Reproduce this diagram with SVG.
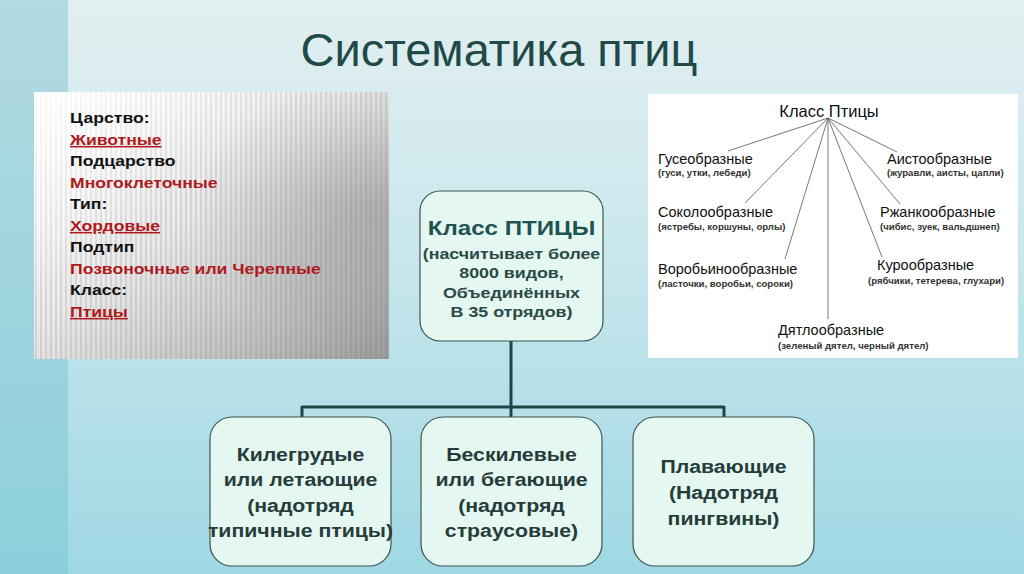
<svg xmlns="http://www.w3.org/2000/svg" width="1024" height="574" viewBox="0 0 1024 574">
<defs>
<linearGradient id="bg" x1="0" y1="0" x2="0" y2="1">
<stop offset="0" stop-color="#e2eff0"/>
<stop offset="0.35" stop-color="#cfe9ee"/>
<stop offset="1" stop-color="#9fd8e4"/>
</linearGradient>
<linearGradient id="strip" x1="0" y1="0" x2="0" y2="1">
<stop offset="0" stop-color="#b2dae0"/>
<stop offset="1" stop-color="#8ccfdc"/>
</linearGradient>
<linearGradient id="gray" x1="0" y1="0" x2="1" y2="1">
<stop offset="0" stop-color="#ffffff"/>
<stop offset="0.45" stop-color="#e4e4e4"/>
<stop offset="0.8" stop-color="#b8b8b8"/>
<stop offset="1" stop-color="#9a9a9a"/>
</linearGradient>
<radialGradient id="shade" cx="0.95" cy="0.45" r="0.5">
<stop offset="0" stop-color="#888" stop-opacity="0.5"/>
<stop offset="1" stop-color="#888" stop-opacity="0"/>
</radialGradient>
<pattern id="stripes" width="5" height="10" patternUnits="userSpaceOnUse">
<rect x="0" y="0" width="2" height="10" fill="#7a7a7a" fill-opacity="0.25"/>
</pattern>
<linearGradient id="fade" x1="0" y1="0" x2="1" y2="1">
<stop offset="0" stop-color="#fff" stop-opacity="0.9"/>
<stop offset="0.4" stop-color="#fff" stop-opacity="0.2"/>
<stop offset="1" stop-color="#fff" stop-opacity="0"/>
</linearGradient>
<style>
.box{fill:#e4f7f0;stroke:#3c5552;stroke-width:1.2}
.bt{font-family:"Liberation Sans",Arial,sans-serif;font-weight:bold;font-size:19px;fill:#263c3a;text-anchor:middle}
.mt{font-family:"Liberation Sans",Arial,sans-serif;font-weight:bold;font-size:15.5px;fill:#2a4a48;text-anchor:middle}
.lt{font-family:"Liberation Sans",Arial,sans-serif;font-weight:bold;font-size:15.3px;fill:#111}
.red{fill:#b0191c}
.u{text-decoration:underline}
.on{font-family:"Liberation Sans",Arial,sans-serif;font-size:14.5px;fill:#111}
.os{font-family:"Liberation Sans",Arial,sans-serif;font-size:9.6px;font-weight:bold;fill:#333}
.ray{stroke:#555;stroke-width:0.8;fill:none}
.conn{stroke:#1c4646;stroke-width:3;fill:none}
</style>
</defs>
<rect width="1024" height="574" fill="url(#bg)"/>
<rect x="0" y="0" width="68" height="574" fill="url(#strip)"/>
<text x="499" y="66" font-family="Liberation Sans,Arial,sans-serif" font-size="46" fill="#1f4a47" text-anchor="middle" textLength="397" lengthAdjust="spacingAndGlyphs">Систематика птиц</text>

<g id="taxonomy-panel">
<rect x="34" y="92" width="355" height="267" fill="url(#gray)"/>
<rect x="34" y="92" width="355" height="267" fill="url(#shade)"/>
<rect x="34" y="92" width="355" height="267" fill="url(#stripes)"/>
<rect x="34" y="92" width="355" height="267" fill="url(#fade)"/>
<g transform="translate(70,0) scale(1.15,1)">
<text class="lt" x="0" y="123">Царство:</text>
<text class="lt red u" x="0" y="145">Животные</text>
<text class="lt" x="0" y="166">Подцарство</text>
<text class="lt red" x="0" y="188">Многоклеточные</text>
<text class="lt" x="0" y="209">Тип:</text>
<text class="lt red u" x="0" y="231">Хордовые</text>
<text class="lt" x="0" y="252">Подтип</text>
<text class="lt red" x="0" y="274">Позвоночные или Черепные</text>
<text class="lt" x="0" y="295">Класс:</text>
<text class="lt red u" x="0" y="317">Птицы</text>
</g>
</g>

<g id="orders-panel">
<rect x="648" y="94" width="370" height="264" fill="#ffffff"/>
<text x="829" y="117" font-family="Liberation Sans,Arial,sans-serif" font-size="16.5" fill="#111" text-anchor="middle">Класс Птицы</text>
<g>
<line class="ray" x1="828" y1="118" x2="728" y2="151"/>
<line class="ray" x1="828" y1="118" x2="745" y2="203"/>
<line class="ray" x1="828" y1="118" x2="785" y2="259"/>
<line class="ray" x1="828" y1="118" x2="828" y2="319"/>
<line class="ray" x1="828" y1="118" x2="882" y2="257"/>
<line class="ray" x1="828" y1="118" x2="900" y2="204"/>
<line class="ray" x1="828" y1="118" x2="897" y2="152"/>
</g>
<text class="on" x="658" y="163.5">Гусеобразные</text>
<text class="os" x="658" y="175.5">(гуси, утки, лебеди)</text>
<text class="on" x="658" y="216.5">Соколообразные</text>
<text class="os" x="658" y="230">(ястребы, коршуны, орлы)</text>
<text class="on" x="658" y="273.5">Воробьинообразные</text>
<text class="os" x="658" y="286.5">(ласточки, воробьи, сороки)</text>
<text class="on" x="887" y="163.5">Аистообразные</text>
<text class="os" x="887" y="175.5">(журавли, аисты, цапли)</text>
<text class="on" x="880" y="216.5">Ржанкообразные</text>
<text class="os" x="880" y="229.5">(чибис, зуек, вальдшнеп)</text>
<text class="on" x="877" y="269.5">Курообразные</text>
<text class="os" x="868" y="283.5">(рябчики, тетерева, глухари)</text>
<text class="on" x="778" y="334.5">Дятлообразные</text>
<text class="os" x="778" y="348.5">(зеленый дятел, черный дятел)</text>
</g>

<g id="connectors">
<path class="conn" d="M511 341 V407 M302 407 H724 M302 406 V418 M511 407 V418 M724 406 V418"/>
</g>

<g id="class-box">
<rect class="box" x="420" y="191" width="183" height="150" rx="20"/>
<g transform="translate(511.5,0) scale(1.15,1)">
<text x="0" y="235" font-family="Liberation Sans,Arial,sans-serif" font-weight="bold" font-size="21" fill="#1f5250" text-anchor="middle">Класс ПТИЦЫ</text>
<text class="mt" x="0" y="259">(насчитывает более</text>
<text class="mt" x="0" y="278">8000 видов,</text>
<text class="mt" x="0" y="298">Объединённых</text>
<text class="mt" x="0" y="317">В 35 отрядов)</text>
</g>
</g>

<g id="keel-box">
<rect class="box" x="210" y="417" width="181" height="149" rx="22"/>
<g transform="translate(300.5,0) scale(1.12,1)">
<text class="bt" x="0" y="461">Килегрудые</text>
<text class="bt" x="0" y="486">или летающие</text>
<text class="bt" x="0" y="512">(надотряд</text>
<text class="bt" x="0" y="537">типичные птицы)</text>
</g>
</g>

<g id="ratite-box">
<rect class="box" x="421" y="417" width="181" height="149" rx="22"/>
<g transform="translate(511.5,0) scale(1.12,1)">
<text class="bt" x="0" y="461">Бескилевые</text>
<text class="bt" x="0" y="486">или бегающие</text>
<text class="bt" x="0" y="512">(надотряд</text>
<text class="bt" x="0" y="537">страусовые)</text>
</g>
</g>

<g id="swim-box">
<rect class="box" x="633" y="417" width="181" height="149" rx="22"/>
<g transform="translate(723.5,0) scale(1.12,1)">
<text class="bt" x="0" y="473">Плавающие</text>
<text class="bt" x="0" y="499">(Надотряд</text>
<text class="bt" x="0" y="525">пингвины)</text>
</g>
</g>
</svg>
